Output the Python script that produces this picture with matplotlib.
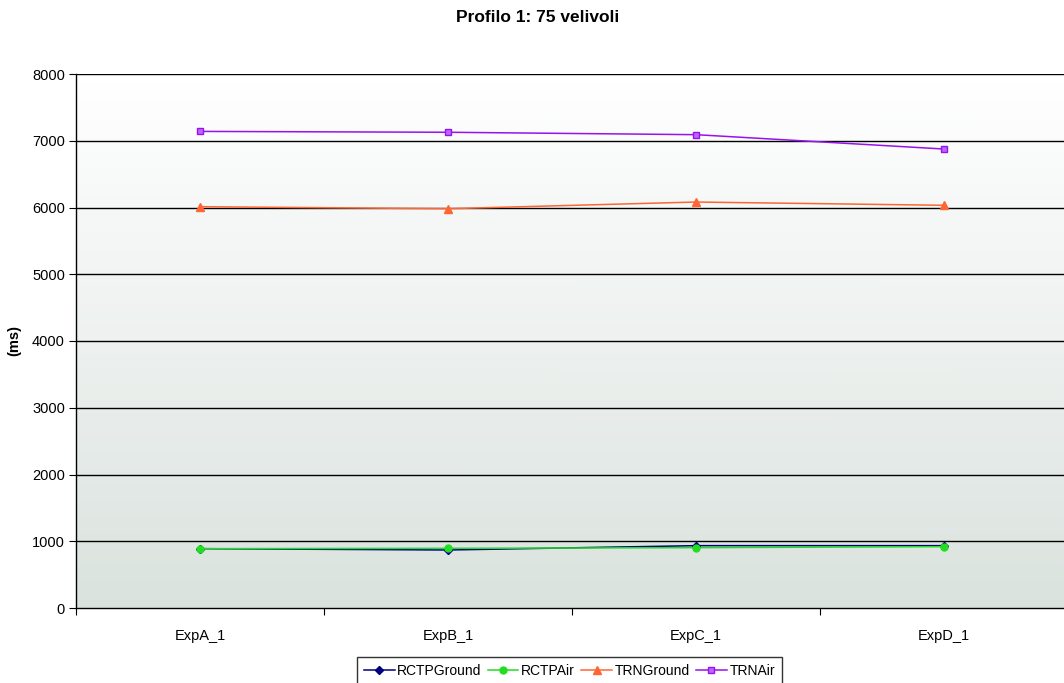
import matplotlib
matplotlib.use("Agg")
import matplotlib.pyplot as plt
from matplotlib.colors import LinearSegmentedColormap
import numpy as np

categories = ["ExpA_1", "ExpB_1", "ExpC_1", "ExpD_1"]
rctp_ground = [889, 869, 934, 934]
rctp_air = [889, 894, 904, 919]
trn_ground = [6012, 5982, 6082, 6033]
trn_air = [7140, 7127, 7091, 6876]
yticks = [0, 1000, 2000, 3000, 4000, 5000, 6000, 7000, 8000]

plt.rcParams['font.family'] = ['Liberation Sans', 'DejaVu Sans']

W, H = 1064, 683
fig = plt.figure(figsize=(W / 100, H / 100), dpi=100)
left, right, top, bottom = 76, 1068, 74, 608
ax = fig.add_axes([left / W, 1 - bottom / H, (right - left) / W, (bottom - top) / H])

x = np.arange(len(categories))
ax.set_xlim(-0.5, len(categories) - 0.5)
ax.set_ylim(0, 8000)

# gradient background
cmap = LinearSegmentedColormap.from_list('bg', ['#dae2de', '#ffffff'])
gy = np.linspace(0, 8000, 200)
gx = np.array([-0.5, len(categories) - 0.5])
GX, GY = np.meshgrid(gx, gy)
ax.pcolormesh(GX, GY, GY / 8000.0, cmap=cmap, shading='gouraud', zorder=0,
              rasterized=True)

for yv in yticks[1:]:
    ax.axhline(yv, color='black', lw=1.0, zorder=1)

ax.plot(x, rctp_ground, color='#000080', marker='D', ms=4.5, lw=1.1, label='RCTPGround', zorder=3)
ax.plot(x, rctp_air, color='#22dd22', marker='o', ms=5, lw=1.1, label='RCTPAir', zorder=3)
ax.plot(x, trn_ground, color='#ff6633', marker='^', ms=6, lw=1.1, label='TRNGround', zorder=3)
ax.plot(x, trn_air, color='#9911ee', marker='s', ms=5, lw=1.1, mfc='#bb66ff', label='TRNAir', zorder=3)

ax.set_yticks(yticks)
ax.set_yticklabels([str(v) for v in yticks], fontsize=10.5)
ax.set_xticks(x)
ax.set_xticklabels(categories, fontsize=10.5)
ax.set_xticks(np.arange(-0.5, len(categories)), minor=True)
ax.tick_params(axis='x', which='major', length=0, pad=15)
ax.tick_params(axis='x', which='minor', length=5, direction='out', width=0.8)
ax.tick_params(axis='y', length=5, direction='out', width=0.8, pad=3)

for s in ['top', 'right']:
    ax.spines[s].set_visible(False)
ax.spines['left'].set_linewidth(1.0)
ax.spines['bottom'].set_linewidth(1.0)

ax.set_ylabel('(ms)', fontsize=10.5, fontweight='bold', labelpad=8)
fig.text(538 / W, 1 - 18 / H, 'Profilo 1: 75 velivoli', fontsize=12.5,
         fontweight='bold', ha='center', va='center')

leg = fig.legend(loc='upper left', bbox_to_anchor=(357 / W, 1 - 657 / H), ncol=4,
                 fontsize=10, frameon=True, fancybox=False, edgecolor='black',
                 handlelength=2.2, handletextpad=0.2, columnspacing=0.45,
                 borderpad=0.5, borderaxespad=0)
leg.get_frame().set_linewidth(1.0)

fig.savefig('out.png', dpi=100)
